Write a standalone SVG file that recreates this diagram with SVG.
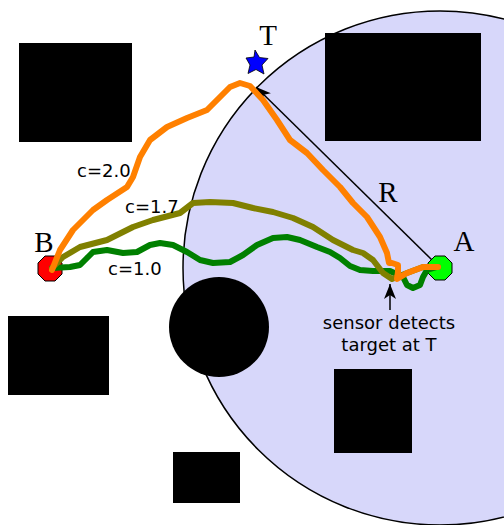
<svg xmlns="http://www.w3.org/2000/svg" width="504" height="525" viewBox="0 0 504 525">
<style>
.obs{fill:#000}
.path{fill:none;stroke-width:6;stroke-linecap:round;stroke-linejoin:round}
.lbl{font-family:"DejaVu Sans",sans-serif;font-size:18px;fill:#000}
.big{font-family:"Liberation Serif",serif;font-size:29px;fill:#000;text-anchor:middle}
.conn{stroke:#000;stroke-width:1.5;fill:none}
</style>
<defs>
<marker id="ah" markerUnits="userSpaceOnUse" markerWidth="20" markerHeight="14" viewBox="-16 -7 18 14" refX="0" refY="0" orient="auto">
<path d="M0,0 L-15,-6 L-11,0 L-15,6 Z" fill="#000"/>
</marker>
</defs>
<rect width="504" height="525" fill="#fff"/>
<g id="sensor-range">
<circle cx="440" cy="268" r="257" fill="#d7d7fa" stroke="#000" stroke-width="1.5"/>
</g>
<g id="obstacles">
<rect class="obs" x="19" y="43" width="113" height="99"/>
<rect class="obs" x="325" y="33" width="156" height="108"/>
<rect class="obs" x="8" y="316" width="101" height="79"/>
<rect class="obs" x="334" y="369" width="78" height="84"/>
<rect class="obs" x="173" y="452" width="67" height="51"/>
<circle class="obs" cx="219" cy="327" r="50"/>
</g>
<g id="connectors">
<line class="conn" x1="432" y1="260" x2="256" y2="87" marker-end="url(#ah)"/>
<line class="conn" x1="390" y1="310" x2="390" y2="284" marker-end="url(#ah)"/>
</g>
<g id="node-B">
<polygon points="55,256 62,263 62,274 55,281 45,281 38,274 38,263 45,256" fill="#ff0000" stroke="#000" stroke-width="1"/>
<text class="big" x="44" y="252">B</text>
</g>
<g id="node-A">
<polygon points="445,256 452,263 452,273 445,280 435,280 428,273 428,263 435,256" fill="#00ff00" stroke="#000" stroke-width="1"/>
<text class="big" x="464" y="251">A</text>
</g>
<g id="node-T">
<polygon points="255,50 259.5,57.5 268,58.5 262,65 264,74 256,69.5 248,73.5 250,65 246,58 254,57" fill="#0000ff" stroke="#000" stroke-width="0.8"/>
<text class="big" x="268" y="45">T</text>
</g>
<g id="paths">
<polyline id="path-c10" class="path" stroke="#008000" points="52,268 70,267 80,265 87,258 93,252 107,250 123,253 137,252 150,245 160,243 173,245 187,252 200,260 213,263 230,262 243,255 257,245 273,238 287,237 300,240 317,247 330,252 340,258 350,266 360,270 373,271 390,271 403,277 407,285 413,288 420,285 423,277 427,270 437,267"/>
<polyline id="path-c17" class="path" stroke="#808000" points="52,268 63,257 80,247 107,240 133,227 153,220 180,213 193,203 210,202 233,203 253,208 273,212 293,218 313,227 333,240 353,250 363,253 373,260 383,273 392,279 407,273 423,267 438,267"/>
<polyline id="path-c20" class="path" stroke="#ff8000" points="52,270 60,250 73,230 93,210 107,200 127,187 133,177 140,157 150,140 167,127 187,118 207,110 217,100 230,87 240,83 250,86 263,100 277,120 290,140 307,153 323,170 340,187 353,203 367,217 380,237 387,253 389,263 392,263 398,265 398,272 397,279 407,273 423,267 438,267"/>
</g>
<g id="labels">
<text class="big" x="388" y="202">R</text>
<text class="lbl" x="77" y="177">c=2.0</text>
<text class="lbl" x="125" y="213">c=1.7</text>
<text class="lbl" x="108" y="275">c=1.0</text>
<text class="lbl" x="389" y="329" text-anchor="middle">sensor detects</text>
<text class="lbl" x="389" y="351" text-anchor="middle">target at T</text>
</g>
</svg>
